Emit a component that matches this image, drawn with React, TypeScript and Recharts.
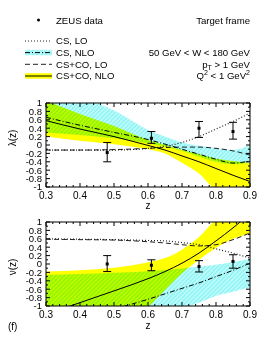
import {
  ComposedChart,
  Line,
  Area,
  Scatter,
  ErrorBar,
  XAxis,
  YAxis,
  ReferenceLine,
  ReferenceArea,
} from "recharts"

// axes
const zTicks = [0.3, 0.4, 0.5, 0.6, 0.7, 0.8, 0.9]
const vTicks = [-1, -0.8, -0.6, -0.4, -0.2, 0, 0.2, 0.4, 0.6, 0.8, 1]

// theory curves sampled on this z grid
const zGrid = [0.3, 0.4, 0.5, 0.6, 0.65, 0.7, 0.75, 0.8, 0.85, 0.9]

// ZEUS points
const dataZ = [0.48, 0.61, 0.75, 0.85]

// lambda(z)
const lamV = [-0.18, 0.16, 0.4, 0.32]
const lamErrLo = [0.22, 0.12, 0.22, 0.18]
const lamErrHi = [0.24, 0.16, 0.16, 0.22]
const lamCsLO = [-0.12, -0.12, -0.12, -0.08, -0.03, 0.06, 0.2, 0.38, 0.56, 0.76]
const lamCscoLO = [-0.12, -0.12, -0.11, -0.08, -0.06, -0.05, -0.05, -0.08, -0.14, -0.24]
const lamCsNLO = [0.66, 0.47, 0.3, 0.13, 0.02, -0.1, -0.22, -0.34, -0.43, -0.38]
const lamCscoNLO = [0.58, 0.38, 0.2, -0.01, -0.12, -0.26, -0.4, -0.56, -0.72, -0.87]
const lamCsLo = [0.3, 0.24, 0.16, 0.04, -0.05, -0.14, -0.28, -0.4, -0.46, -0.42]
const lamCsHi = [0.96, 1.1, 0.82, 0.36, 0.2, 0.06, -0.02, -0.08, -0.12, 0.0]
const lamCscoLo = [0.2, 0.1, 0.02, -0.1, -0.2, -0.42, -0.68, -1.05, -1.1, -1.1]
const lamCscoHi = [1.05, 0.74, 0.45, 0.12, 0.0, -0.12, -0.22, -0.32, -0.38, -0.42]

// nu(z)
const nuV = [0.0, -0.03, -0.06, 0.06]
const nuErrLo = [0.18, 0.13, 0.13, 0.16]
const nuErrHi = [0.2, 0.13, 0.14, 0.16]
const nuCsLO = [0.6, 0.59, 0.58, 0.56, 0.55, 0.51, 0.46, 0.36, 0.26, 0.14]
const nuCscoLO = [0.59, 0.58, 0.57, 0.53, 0.5, 0.46, 0.43, 0.46, 0.58, 0.74]
const nuCsNLO = [-1.6, -1.35, -1.08, -0.84, -0.71, -0.58, -0.45, -0.3, -0.15, 0.02]
const nuCscoNLO = [-1.2, -0.92, -0.64, -0.35, -0.18, 0.02, 0.26, 0.55, 0.86, 1.2]
const nuCsLo = [-1.5, -1.5, -1.5, -1.3, -1.2, -1.05, -0.92, -0.76, -0.66, -0.56]
const nuCsHi = [-0.26, -0.24, -0.21, -0.17, -0.14, -0.11, -0.06, -0.02, 0.05, 0.12]
const nuCscoLo = [-1.5, -1.5, -1.5, -1.02, -0.62, -0.22, 0.1, 0.38, 0.6, 0.72]
const nuCscoHi = [-0.18, -0.15, -0.09, 0.04, 0.14, 0.34, 0.64, 1.05, 1.2, 1.2]

const FONT = "'Liberation Sans', Arial, sans-serif"

const curve = (vals: number[]) => zGrid.map((z, i) => ({ z, v: vals[i] }))
const band = (lo: number[], hi: number[]) => zGrid.map((z, i) => ({ z, r: [lo[i], hi[i]] }))

// small inward tick marks on all four sides of the frame
const frameTicks = () => {
  const out: any[] = []
  const dy = 2 / 84
  const dx = 0.6 / 204
  for (let i = 0; i <= 30; i++) {
    const z = 0.3 + i * 0.02
    const len = (i % 5 === 0 ? 4 : 2) * dy
    out.push(<ReferenceLine key={"b" + i} segment={[{ x: z, y: -1 }, { x: z, y: -1 + len }]} stroke="#000" ifOverflow="visible" />)
    out.push(<ReferenceLine key={"t" + i} segment={[{ x: z, y: 1 }, { x: z, y: 1 - len }]} stroke="#000" ifOverflow="visible" />)
  }
  for (let i = 0; i <= 20; i++) {
    const v = -1 + i * 0.1
    const len = (i % 2 === 0 ? 4 : 2) * dx
    out.push(<ReferenceLine key={"l" + i} segment={[{ x: 0.3, y: v }, { x: 0.3 + len, y: v }]} stroke="#000" ifOverflow="visible" />)
    out.push(<ReferenceLine key={"r" + i} segment={[{ x: 0.9, y: v }, { x: 0.9 - len, y: v }]} stroke="#000" ifOverflow="visible" />)
  }
  return out
}

const Marker = (p: any) => <rect x={p.cx - 1.5} y={p.cy - 1.5} width={3} height={3} fill="#000" />

interface PanelProps {
  top: number
  height: number
  marginTop: number
  axisH: number
  v: number[]
  errLo: number[]
  errHi: number[]
  csLO: number[]
  cscoLO: number[]
  csNLO: number[]
  cscoNLO: number[]
  csLo: number[]
  csHi: number[]
  cscoLo: number[]
  cscoHi: number[]
}

function Panel(p: PanelProps) {
  const points = dataZ.map((z, i) => ({ z, v: p.v[i], err: [p.errLo[i], p.errHi[i]] }))
  return (
    <div style={{ position: "absolute", left: 0, top: p.top }}>
      <ComposedChart width={273} height={p.height} margin={{ top: p.marginTop, right: 23, bottom: 0, left: 0 }}>
        <XAxis
          type="number"
          dataKey="z"
          domain={[0.3, 0.9]}
          ticks={zTicks}
          interval={0}
          allowDataOverflow
          axisLine={false}
          tickLine={false}
          tickSize={3}
          tickMargin={2}
          height={p.axisH}
          tick={{ fontSize: 10, fill: "#000", fontFamily: FONT }}
          tickFormatter={(t: number) => t.toFixed(1)}
        />
        <YAxis
          type="number"
          domain={[-1, 1]}
          ticks={vTicks}
          interval={0}
          allowDataOverflow
          axisLine={false}
          tickLine={false}
          tickSize={2}
          tickMargin={2}
          width={46}
          tick={{ fontSize: 9.5, fill: "#000", fontFamily: FONT }}
          tickFormatter={(t: number) => String(Math.round(t * 10) / 10)}
        />
        <Area data={band(p.cscoLo, p.cscoHi)} dataKey="r" type="monotone" stroke="none" fill="#ffff00" fillOpacity={1} isAnimationActive={false} />
        <Area className="cyanband" data={band(p.csLo, p.csHi)} dataKey="r" type="monotone" stroke="none" fill="url(#hatch)" fillOpacity={1} isAnimationActive={false} />
        <Line data={curve(p.csLO)} dataKey="v" type="monotone" stroke="#222" strokeWidth={1.2} strokeDasharray="1 2" dot={false} isAnimationActive={false} />
        <Line data={curve(p.cscoLO)} dataKey="v" type="monotone" stroke="#222" strokeWidth={1} strokeDasharray="5 3" dot={false} isAnimationActive={false} />
        <Line data={curve(p.csNLO)} dataKey="v" type="monotone" stroke="#000" strokeWidth={1} strokeDasharray="5 2 1 2" dot={false} isAnimationActive={false} />
        <Line data={curve(p.cscoNLO)} dataKey="v" type="monotone" stroke="#000" strokeWidth={1} dot={false} isAnimationActive={false} />
        <Scatter data={points} dataKey="v" shape={Marker} isAnimationActive={false}>
          <ErrorBar dataKey="err" direction="y" width={4} stroke="#000" strokeWidth={1} />
        </Scatter>
        <ReferenceArea x1={0.3} x2={0.9} y1={-1} y2={1} fill="none" stroke="#000" ifOverflow="visible" />
        {frameTicks()}
      </ComposedChart>
    </div>
  )
}

export default function App() {
  const t = { fontFamily: FONT, fontSize: 9.6, fill: "#000" }
  return (
    <div style={{ position: "absolute", left: 0, top: 0, width: 273, height: 340, background: "#fff", overflow: "hidden" }}>
      <style>{`.cyanband, .cyanband .recharts-area-area { mix-blend-mode: multiply; }`}</style>
      <svg width={0} height={0} style={{ position: "absolute" }}>
        <defs>
          <pattern id="hatch" width={3} height={3} patternUnits="userSpaceOnUse" patternTransform="rotate(45)">
            <rect width={3} height={3} fill="#98f4f4" />
            <rect width={1} height={3} fill="#c8ffff" />
          </pattern>
        </defs>
      </svg>
      <Panel
        top={0}
        height={215}
        marginTop={103}
        axisH={28}
        v={lamV}
        errLo={lamErrLo}
        errHi={lamErrHi}
        csLO={lamCsLO}
        cscoLO={lamCscoLO}
        csNLO={lamCsNLO}
        cscoNLO={lamCscoNLO}
        csLo={lamCsLo}
        csHi={lamCsHi}
        cscoLo={lamCscoLo}
        cscoHi={lamCscoHi}
      />
      <Panel
        top={210}
        height={130}
        marginTop={12}
        axisH={34}
        v={nuV}
        errLo={nuErrLo}
        errHi={nuErrHi}
        csLO={nuCsLO}
        cscoLO={nuCscoLO}
        csNLO={nuCsNLO}
        cscoNLO={nuCscoNLO}
        csLo={nuCsLo}
        csHi={nuCsHi}
        cscoLo={nuCscoLo}
        cscoHi={nuCscoHi}
      />
      <svg width={273} height={340} style={{ position: "absolute", left: 0, top: 0, pointerEvents: "none" }}>
        {/* legend */}
        <circle cx={38.5} cy={20} r={1.5} fill="#000" />
        <text x={56} y={23.5} {...t}>ZEUS data</text>
        <text x={250} y={23.5} textAnchor="end" {...t}>Target frame</text>

        <line x1={25} x2={52} y1={41} y2={41} stroke="#222" strokeWidth={1.2} strokeDasharray="1 2" />
        <text x={56} y={44.3} {...t}>CS, LO</text>

        <rect x={25} y={49.8} width={27} height={5.5} fill="url(#hatch)" />
        <line x1={25} x2={52} y1={52.6} y2={52.6} stroke="#000" strokeDasharray="5 2 1 2" />
        <text x={56} y={56} {...t}>CS, NLO</text>
        <text x={250} y={56} textAnchor="end" {...t}>50 GeV &lt; W &lt; 180 GeV</text>

        <line x1={25} x2={52} y1={64.3} y2={64.3} stroke="#222" strokeDasharray="5 3" />
        <text x={56} y={67.7} {...t}>CS+CO, LO</text>
        <text x={250} y={67.7} textAnchor="end" {...t}>
          p<tspan fontSize={7} dy={2}>T</tspan><tspan dy={-2}> &gt; 1 GeV</tspan>
        </text>

        <rect x={25} y={73.2} width={27} height={5.5} fill="#ffff00" />
        <line x1={25} x2={52} y1={76} y2={76} stroke="#000" />
        <text x={56} y={79.4} {...t}>CS+CO, NLO</text>
        <text x={250} y={79.4} textAnchor="end" {...t}>
          Q<tspan fontSize={7} dy={-4}>2</tspan><tspan dy={4}> &lt; 1 GeV</tspan><tspan fontSize={7} dy={-4}>2</tspan>
        </text>

        {/* axis titles */}
        <text transform="translate(15.5,138) rotate(-90)" textAnchor="middle" {...t} fontSize={10}>λ(z)</text>
        <text x={148} y={208.5} textAnchor="middle" {...t} fontSize={10}>z</text>
        <text transform="translate(15.5,267) rotate(-90)" textAnchor="middle" {...t} fontSize={10}>ν(z)</text>
        <text x={148} y={328.5} textAnchor="middle" {...t} fontSize={10}>z</text>
        <text x={8} y={329.5} {...t} fontSize={10}>(f)</text>
      </svg>
    </div>
  )
}
